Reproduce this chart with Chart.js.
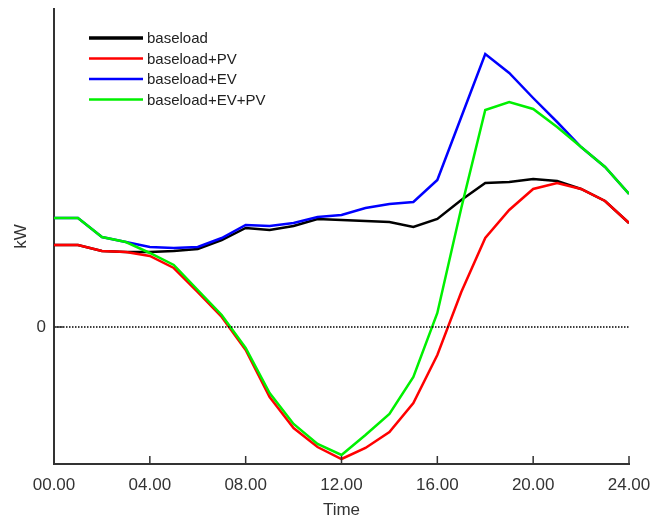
<!DOCTYPE html>
<html>
<head>
<meta charset="utf-8">
<script src="https://cdn.jsdelivr.net/npm/chart.js@4"></script>
<style>
  html, body { margin: 0; padding: 0; background: #fff; }
  #wrap { width: 651px; height: 521px; }
</style>
</head>
<body>
<div id="wrap"><canvas id="loadChart"></canvas></div>
<script>
// hours of the day, 0..24
const hours = [0, 1, 2, 3, 4, 5, 6, 7, 8, 9, 10, 11, 12, 13, 14, 15, 16, 17, 18, 19, 20, 21, 22, 23, 24];
const xTicks = [0, 4, 8, 12, 16, 20, 24];

// kW
const baseload   = [0.82, 0.82, 0.76, 0.75, 0.75, 0.76, 0.78, 0.87, 0.99, 0.97, 1.01, 1.08, 1.07, 1.06, 1.05, 1.00, 1.08, 1.27, 1.44, 1.45, 1.48, 1.46, 1.38, 1.26, 1.04];
const baseloadPV = [0.82, 0.82, 0.76, 0.75, 0.71, 0.59, 0.35, 0.10, -0.23, -0.70, -1.01, -1.20, -1.32, -1.21, -1.05, -0.76, -0.28, 0.35, 0.89, 1.17, 1.38, 1.44, 1.38, 1.26, 1.04];
const baseloadEV = [1.09, 1.09, 0.90, 0.85, 0.80, 0.79, 0.80, 0.89, 1.02, 1.01, 1.04, 1.10, 1.12, 1.19, 1.23, 1.25, 1.47, 2.10, 2.73, 2.54, 2.29, 2.05, 1.80, 1.60, 1.33];
const baseloadEVPV = [1.09, 1.09, 0.90, 0.85, 0.74, 0.62, 0.37, 0.12, -0.21, -0.66, -0.97, -1.17, -1.28, -1.08, -0.87, -0.50, 0.14, 1.19, 2.17, 2.25, 2.18, 2.00, 1.80, 1.60, 1.33];

const yMin = -1.37;
const yMax = 3.18;

const toPoints = arr => arr.map((v, i) => ({ x: hours[i], y: v }));

// inward ticks, dotted zero line and the legend inside the plot
const decorations = {
    id: 'decorations',
    afterDatasetsDraw(chart) {
        const { ctx, chartArea: a, scales: { x, y } } = chart;
        ctx.save();

        // dotted zero line
        const y0 = y.getPixelForValue(0);
        ctx.strokeStyle = '#000';
        ctx.lineWidth = 1.5;
        ctx.setLineDash([1.5, 1.5]);
        ctx.beginPath();
        ctx.moveTo(a.left, y0);
        ctx.lineTo(a.right, y0);
        ctx.stroke();
        ctx.setLineDash([]);

        // ticks pointing into the plot
        ctx.strokeStyle = '#333';
        ctx.lineWidth = 1.5;
        ctx.beginPath();
        xTicks.forEach(t => {
            const px = x.getPixelForValue(t);
            ctx.moveTo(px, a.bottom);
            ctx.lineTo(px, a.bottom - 8);
        });
        ctx.moveTo(a.left, y0);
        ctx.lineTo(a.left + 9, y0);
        ctx.stroke();

        // legend
        ctx.font = '15px "Liberation Sans", Arial, sans-serif';
        ctx.textBaseline = 'middle';
        chart.data.datasets.forEach((ds, i) => {
            const ly = 38 + i * 20.5;
            ctx.strokeStyle = ds.borderColor;
            ctx.lineWidth = i === 0 ? 3.5 : 2.5;
            ctx.beginPath();
            ctx.moveTo(89, ly);
            ctx.lineTo(143, ly);
            ctx.stroke();
            ctx.fillStyle = '#222';
            ctx.fillText(ds.label, 147, ly + 1);
        });
        ctx.restore();
    }
};

new Chart(document.getElementById('loadChart'), {
    type: 'line',
    data: {
        datasets: [
            { label: 'baseload', data: toPoints(baseload), borderColor: '#000000', order: 4 },
            { label: 'baseload+PV', data: toPoints(baseloadPV), borderColor: '#ff0000', order: 2 },
            { label: 'baseload+EV', data: toPoints(baseloadEV), borderColor: '#0000ff', order: 3 },
            { label: 'baseload+EV+PV', data: toPoints(baseloadEVPV), borderColor: '#00f000', order: 1 }
        ]
    },
    options: {
        responsive: true,
        maintainAspectRatio: false,
        animation: false,
        layout: { padding: { top: 9, right: 22, left: 0, bottom: 0 } },
        elements: {
            line: { borderWidth: 2.5, tension: 0, fill: false },
            point: { radius: 0 }
        },
        plugins: {
            legend: { display: false },
            tooltip: { enabled: false }
        },
        scales: {
            x: {
                type: 'linear',
                min: 0,
                max: 24,
                afterBuildTicks: scale => { scale.ticks = xTicks.map(v => ({ value: v })); },
                afterFit: scale => {
                    scale.height = 57;
                    scale.paddingLeft = 0;
                    scale.paddingRight = 0;
                },
                ticks: {
                    padding: 11,
                    color: '#333',
                    font: { family: '"Liberation Sans", Arial, sans-serif', size: 17 },
                    callback: v => String(v).padStart(2, '0') + '.00'
                },
                grid: { drawOnChartArea: false, drawTicks: false },
                border: { color: '#333', width: 2 },
                title: {
                    display: true,
                    text: 'Time',
                    color: '#333',
                    padding: { top: 3, bottom: 0 },
                    font: { family: '"Liberation Sans", Arial, sans-serif', size: 17 }
                }
            },
            y: {
                min: yMin,
                max: yMax,
                afterBuildTicks: scale => { scale.ticks = [{ value: 0 }]; },
                afterFit: scale => {
                    scale.width = 54;
                    scale.paddingTop = 0;
                    scale.paddingBottom = 0;
                },
                ticks: {
                    padding: 8,
                    color: '#333',
                    font: { family: '"Liberation Sans", Arial, sans-serif', size: 17 }
                },
                grid: { drawOnChartArea: false, drawTicks: false },
                border: { color: '#333', width: 2 },
                title: {
                    display: true,
                    text: 'kW',
                    color: '#333',
                    padding: { top: 11, bottom: 0 },
                    font: { family: '"Liberation Sans", Arial, sans-serif', size: 17 }
                }
            }
        }
    },
    plugins: [decorations]
});
</script>
</body>
</html>
